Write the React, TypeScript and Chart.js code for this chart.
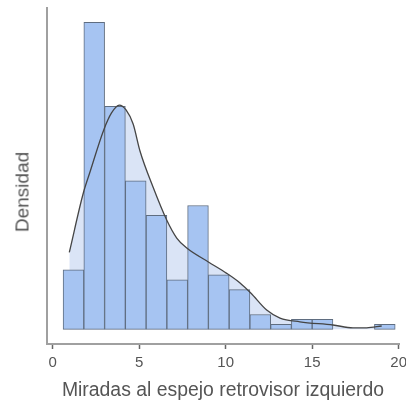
import React, { useEffect, useRef } from "react";
import { Chart, registerables } from "chart.js";

Chart.register(...registerables);

// Histogram bins (centres, width 1.2) and densities
const binCenters = [1.2, 2.4, 3.6, 4.8, 6.0, 7.2, 8.4, 9.6, 10.8, 12.0, 13.2, 14.4, 15.6, 16.8, 18.0, 19.2];
const binDensities = [0.0426, 0.2199, 0.1596, 0.1064, 0.0816, 0.0355, 0.0887, 0.039, 0.0284, 0.0106, 0.0035, 0.0071, 0.0071, 0, 0, 0.0035];

// Kernel density curve
const kdeX = [0.96, 1.77, 2.16, 2.95, 3.4, 3.85, 4.24, 4.65, 5.05, 5.8, 6.59, 7.17, 7.75, 8.98, 10.06, 10.83, 11.45, 12.37, 13.14, 14.29, 16.2, 17.36, 18.15, 19.02];
const kdeY = [0.0551, 0.0976, 0.1128, 0.1428, 0.155, 0.1606, 0.1571, 0.147, 0.1275, 0.1019, 0.0783, 0.0654, 0.0582, 0.0484, 0.0401, 0.0332, 0.026, 0.0138, 0.0081, 0.0054, 0.0031, 0.0011, 0.0011, 0.0024];

const xTicks = [0, 5, 10, 15, 20];
const xTitle = "Miradas al espejo retrovisor izquierdo";
const yTitle = "Densidad";

const FONT = "'Liberation Sans', Arial, sans-serif";
const TEXT = "#555555";

export default function App() {
  const ref = useRef<HTMLCanvasElement>(null);

  useEffect(() => {
    document.body.style.margin = "0";
    const chart = new Chart(ref.current!, {
      type: "bar",
      data: {
        datasets: [
          {
            type: "line",
            data: kdeX.map((x, i) => ({ x, y: kdeY[i] })),
            borderColor: "#454545",
            borderWidth: 1.3,
            backgroundColor: "#dae4f6",
            fill: "origin",
            pointRadius: 0,
            cubicInterpolationMode: "monotone",
            order: 1,
          } as any,
          {
            type: "bar",
            data: binCenters.map((x, i) => ({ x, y: binDensities[i] })),
            backgroundColor: "#a6c4f2",
            borderColor: "#5f6d80",
            borderWidth: 1,
            borderSkipped: false,
            barPercentage: 1,
            categoryPercentage: 1,
            grouped: false,
            order: 2,
          } as any,
        ],
      },
      options: {
        responsive: false,
        animation: false,
        devicePixelRatio: 1,
        layout: { padding: { top: 8, right: 7, left: 0, bottom: 0 } },
        plugins: {
          legend: { display: false },
          tooltip: { enabled: false },
          filler: { drawTime: "beforeDatasetsDraw" },
        } as any,
        scales: {
          x: {
            type: "linear",
            offset: false,
            min: -0.33,
            max: 20.02,
            afterBuildTicks: (axis: any) => {
              axis.ticks = xTicks.map((v) => ({ value: v }));
            },
            afterFit: (s: any) => {
              s.height = 59;
              s.paddingLeft = 0;
              s.paddingRight = 0;
            },
            ticks: { font: { family: FONT, size: 15 }, color: TEXT, padding: 5 },
            grid: {
              display: true,
              offset: false,
              drawOnChartArea: false,
              drawTicks: true,
              tickLength: 5,
              tickColor: "#666666",
              tickWidth: 1.5,
            },
            border: { display: true, color: "#a0a0a0", width: 2 },
            title: {
              display: true,
              text: xTitle,
              font: { family: FONT, size: 19.4 },
              color: TEXT,
              padding: { top: 0, bottom: 1 },
            },
          },
          y: {
            type: "linear",
            min: -0.0105,
            max: 0.2301,
            afterFit: (s: any) => {
              s.width = 47;
              s.paddingTop = 0;
              s.paddingBottom = 0;
            },
            ticks: { display: false },
            grid: { display: false },
            border: { display: true, color: "#a0a0a0", width: 2 },
          },
        },
      } as any,
    });
    return () => chart.destroy();
  }, []);

  return (
    <div style={{ position: "relative", width: 406, height: 403 }}>
      <canvas ref={ref} width={406} height={403} style={{ display: "block" }} />
      <div
        style={{
          position: "absolute",
          left: 22,
          top: 192,
          transform: "translate(-50%, -50%) rotate(-90deg)",
          fontFamily: FONT,
          fontSize: 19,
          color: TEXT,
          whiteSpace: "nowrap",
          lineHeight: 1,
        }}
      >
        {yTitle}
      </div>
    </div>
  );
}
